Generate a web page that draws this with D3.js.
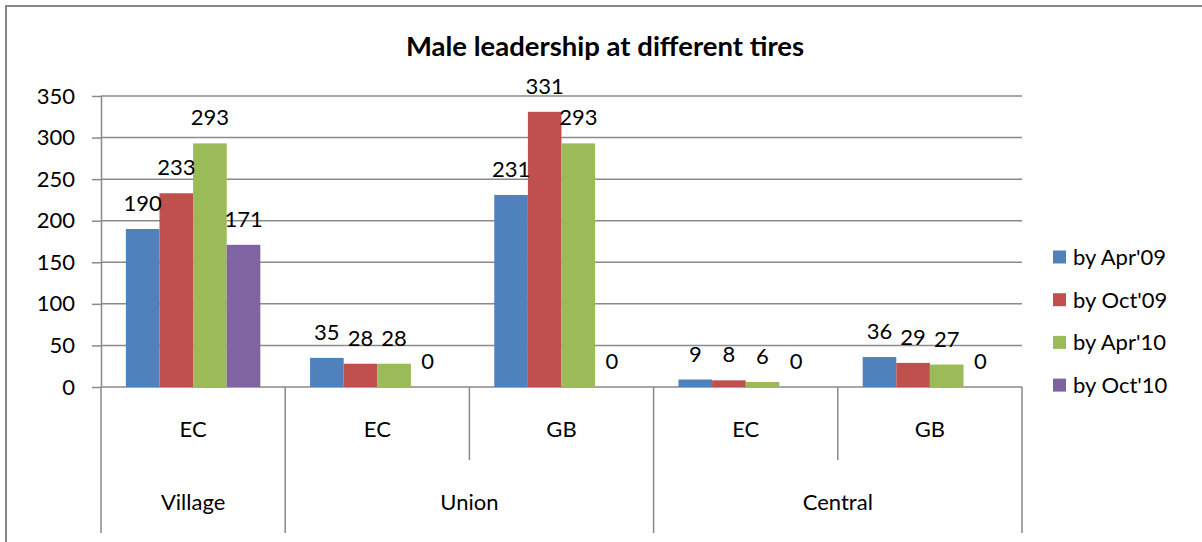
<!DOCTYPE html>
<meta charset="utf-8">
<style>
body { margin: 0; background: #fff; }
text { font-family: Lato, "Open Sans", sans-serif; fill: #000; }
.grid line { stroke: #8a8a8a; stroke-width: 1.5px; }
.sep { stroke: #8a8a8a; stroke-width: 1.5px; }
</style>
<svg width="1202" height="542"></svg>
<script src="https://cdn.jsdelivr.net/npm/d3@7"></script>
<script>

// categories (two levels) and series
var bodies = ["EC", "EC", "GB", "EC", "GB"];
var tiers = ["Village", "Union", "Union", "Central", "Central"];
var seriesNames = ["by Apr'09", "by Oct'09", "by Apr'10", "by Oct'10"];
var april09 = [190, 35, 231, 9, 36];
var october09 = [233, 28, 331, 8, 29];
var april10 = [293, 28, 293, 6, 27];
var october10 = [171, 0, 0, 0, 0];
var yTicks = [0, 50, 100, 150, 200, 250, 300, 350];
var colors = ["#4f81bd", "#c0504d", "#9bbb59", "#8064a2"];

var seriesValues = [april09, october09, april10, october10];

var svg = d3.select("svg");

var plotLeft = 101, plotRight = 1022, plotTop = 96, plotBase = 387;

// outer chart border (runs off the right and bottom edge)
svg.append("rect")
    .attr("x", 6).attr("y", 6)
    .attr("width", 1400).attr("height", 700)
    .attr("fill", "none")
    .attr("stroke", "#878787")
    .attr("stroke-width", 2);

svg.append("text")
    .attr("x", 605).attr("y", 56)
    .attr("text-anchor", "middle")
    .style("font-weight", "bold")
    .style("font-size", "27.5px")
    .text("Male leadership at different tires");

var x0 = d3.scaleBand()
    .domain(d3.range(bodies.length))
    .range([plotLeft, plotRight]);

var x1 = d3.scaleBand()
    .domain(d3.range(seriesNames.length))
    .range([0, x0.bandwidth()])
    .paddingOuter(0.74);

var y = d3.scaleLinear()
    .domain([0, 350])
    .range([plotBase, plotTop]);

// gridlines
svg.append("g")
    .attr("class", "grid")
  .selectAll("line")
  .data(yTicks)
  .enter().append("line")
    .attr("x1", plotLeft).attr("x2", plotRight)
    .attr("y1", function(d) { return y(d); })
    .attr("y2", function(d) { return y(d); });

var yAxis = svg.append("g")
    .attr("transform", "translate(" + plotLeft + ",0)")
    .call(d3.axisLeft(y).tickValues(yTicks).tickSizeInner(9).tickSizeOuter(0).tickPadding(17));
yAxis.select(".domain").attr("stroke", "#8a8a8a").attr("stroke-width", 1.5);
yAxis.selectAll(".tick line").attr("stroke", "#8a8a8a").attr("stroke-width", 1.5);
yAxis.selectAll(".tick text")
    .style("font-family", "Lato, sans-serif")
    .style("font-size", "22px")
    .attr("fill", "#000");

// bars
var groups = svg.selectAll(".grp")
    .data(bodies)
  .enter().append("g")
    .attr("class", "grp")
    .attr("transform", function(d, i) { return "translate(" + x0(i) + ",0)"; });

groups.selectAll("rect")
    .data(function(d, i) { return seriesValues.map(function(s, k) { return {k: k, v: s[i]}; }); })
  .enter().append("rect")
    .attr("x", function(d) { return x1(d.k); })
    .attr("width", x1.bandwidth())
    .attr("y", function(d) { return y(d.v); })
    .attr("height", function(d) { return plotBase - y(d.v); })
    .attr("fill", function(d) { return colors[d.k]; });

groups.selectAll(".lbl")
    .data(function(d, i) { return seriesValues.map(function(s, k) { return {k: k, v: s[i]}; }); })
  .enter().append("text")
    .attr("class", "lbl")
    .attr("x", function(d) { return x1(d.k) + x1.bandwidth() / 2; })
    .attr("y", function(d) { return y(d.v) - 18; })
    .attr("text-anchor", "middle")
    .style("font-size", "22px")
    .text(function(d) { return d.v; });

// category separators: full height at tier boundaries, half at inner ones
var bounds = d3.range(bodies.length + 1);
svg.selectAll(".sep")
    .data(bounds)
  .enter().append("line")
    .attr("class", "sep")
    .attr("x1", function(i) { return i < bodies.length ? x0(i) : plotRight; })
    .attr("x2", function(i) { return i < bodies.length ? x0(i) : plotRight; })
    .attr("y1", plotBase)
    .attr("y2", function(i) {
      var outer = i === 0 || i === bodies.length || tiers[i] !== tiers[i - 1];
      return outer ? 533 : 460;
    });

svg.selectAll(".body")
    .data(bodies)
  .enter().append("text")
    .attr("x", function(d, i) { return x0(i) + x0.bandwidth() / 2; })
    .attr("y", 437)
    .attr("text-anchor", "middle")
    .style("font-size", "22px")
    .text(function(d) { return d; });

var tierNames = Array.from(new Set(tiers));
svg.selectAll(".tier")
    .data(tierNames)
  .enter().append("text")
    .attr("x", function(t) {
      var idx = d3.range(tiers.length).filter(function(i) { return tiers[i] === t; });
      return (x0(idx[0]) + x0(idx[idx.length - 1]) + x0.bandwidth()) / 2;
    })
    .attr("y", 510)
    .attr("text-anchor", "middle")
    .style("font-size", "22px")
    .text(function(d) { return d; });

// legend
var legend = svg.selectAll(".legend")
    .data(seriesNames)
  .enter().append("g")
    .attr("transform", function(d, i) { return "translate(1053," + (257 + i * 42.7) + ")"; });

legend.append("rect")
    .attr("x", 0).attr("y", -6.5)
    .attr("width", 13).attr("height", 13)
    .attr("fill", function(d, i) { return colors[i]; });

legend.append("text")
    .attr("x", 20).attr("y", 8)
    .style("font-size", "22px")
    .text(function(d) { return d; });

</script>
